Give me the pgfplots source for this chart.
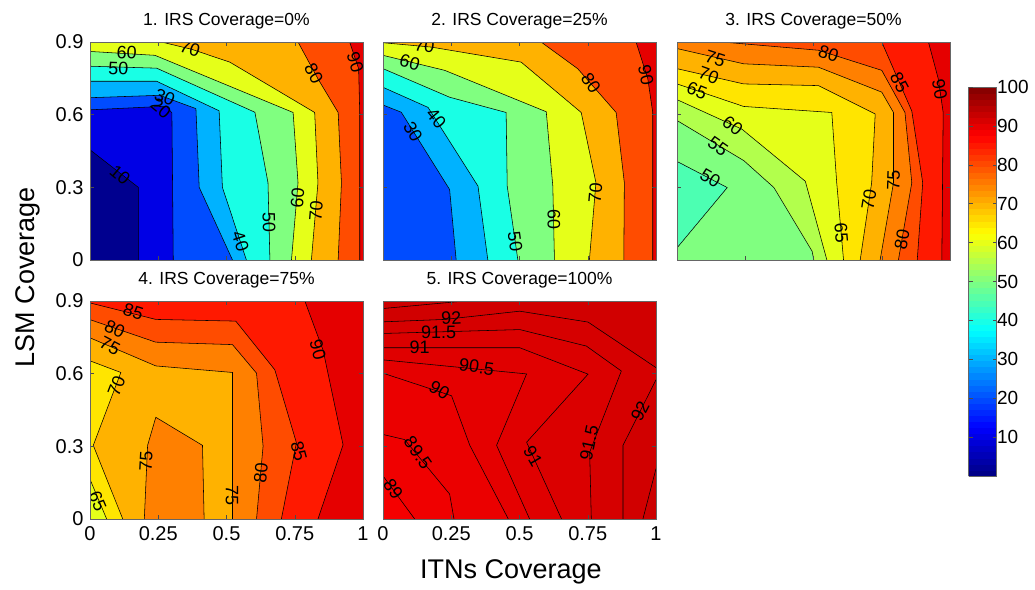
\documentclass[border=0pt]{standalone}
\usepackage{fontspec}
\setmainfont{Liberation Sans}
\usepackage{pgfplots}
\pgfplotsset{compat=1.18}
\pgfplotsset{/pgf/number format/assume math mode=true}
\newcommand\tickfont{\fontsize{20}{23}\selectfont}
\newcommand\cbfont{\fontsize{19}{22}\selectfont}
\newcommand\titlefont{\fontsize{17.5}{20}\selectfont}
\newcommand\labfont{\fontsize{27}{30}\selectfont}
\newcommand\clabfont{\fontsize{18}{20}\selectfont}
\definecolor{j0}{rgb}{0,0,0.56}
\definecolor{j10}{rgb}{0,0,0.9}
\definecolor{j20}{rgb}{0,0.3,1}
\definecolor{j30}{rgb}{0,0.7,1}
\definecolor{j40}{rgb}{0.1,1,0.9}
\definecolor{j45}{rgb}{0.3,1,0.7}
\definecolor{j50}{rgb}{0.5,1,0.5}
\definecolor{j55}{rgb}{0.7,1,0.3}
\definecolor{j60}{rgb}{0.9,1,0.1}
\definecolor{j65}{rgb}{1,0.9,0}
\definecolor{j70}{rgb}{1,0.7,0}
\definecolor{j75}{rgb}{1,0.5,0}
\definecolor{j80}{rgb}{1,0.3,0}
\definecolor{j85}{rgb}{1,0.1,0}
\definecolor{j90}{rgb}{0.9,0,0}
\definecolor{jA}{rgb}{0.96,0,0}
\definecolor{jB}{rgb}{0.94,0,0}
\definecolor{jC}{rgb}{0.92,0,0}
\definecolor{jD}{rgb}{0.90,0,0}
\definecolor{jE}{rgb}{0.88,0,0}
\definecolor{jF}{rgb}{0.86,0,0}
\definecolor{jG}{rgb}{0.84,0,0}
\definecolor{jH}{rgb}{0.82,0,0}
\definecolor{jI}{rgb}{0.80,0,0}
\tikzset{
  cf/.style={draw=none, fill=#1},
  cl/.style={black, line width=0.55pt},
  lab/.style={font=\clabfont, inner sep=0pt},
}
\pgfplotsset{
  panel/.style={anchor=south west, scale only axis, width=273pt, height=218pt,
    xmin=0, xmax=1, ymin=0, ymax=0.9,
    xtick={0,0.25,0.5,0.75,1}, ytick={0,0.3,0.6,0.9},
    tick align=inside, major tick length=4pt,
    tick style={black!70, line width=0.5pt},
    axis line style={black!60, line width=0.6pt},
    ticklabel style={font=\tickfont},
    xticklabel style={yshift=-4pt}, yticklabel style={xshift=-3pt},
    title style={font=\titlefont, yshift=3pt},
    axis on top},
}
\begin{document}
\begin{tikzpicture}
\useasboundingbox (0,0) rectangle (1035pt,-589pt);

% ---------------- Panel 1
\begin{axis}[panel, at={(90pt,-260pt)}, title={1. IRS Coverage=0\%},
  xticklabels={}, yticklabels={0,0.3,0.6,0.9}]
\addplot[cf=j0] coordinates {(0,0) (1,0) (1,0.9) (0,0.9)};
\addplot[cf=j10] coordinates {(0,0.455) (0.177,0.30) (0.177,0) (1,0) (1,0.9) (0,0.9)};
\addplot[cf=j20] coordinates {(0,0.62) (0.28,0.635) (0.30,0.607) (0.305,0) (1,0) (1,0.9) (0,0.9)};
\addplot[cf=j30] coordinates {(0,0.67) (0.255,0.68) (0.388,0.625) (0.40,0.30) (0.522,0) (1,0) (1,0.9) (0,0.9)};
\addplot[cf=j40] coordinates {(0,0.738) (0.244,0.738) (0.473,0.616) (0.485,0.30) (0.573,0) (1,0) (1,0.9) (0,0.9)};
\addplot[cf=j50] coordinates {(0,0.80) (0.244,0.792) (0.604,0.61) (0.652,0.319) (0.659,0) (1,0) (1,0.9) (0,0.9)};
\addplot[cf=j60] coordinates {(0,0.861) (0.238,0.845) (0.744,0.609) (0.762,0.319) (0.738,0) (1,0) (1,0.9) (0,0.9)};
\addplot[cf=j70] coordinates {(0.262,0.9) (0.372,0.870) (0.512,0.817) (0.823,0.609) (0.835,0.319) (0.811,0) (1,0) (1,0.9)};
\addplot[cf=j80] coordinates {(0.762,0.9) (0.835,0.748) (0.909,0.609) (0.921,0.319) (0.909,0) (1,0) (1,0.9)};
\addplot[cf=j90] coordinates {(0.951,0.9) (0.984,0.79) (0.988,0.609) (0.988,0) (1,0) (1,0.9)};
\addplot[cl] coordinates {(0,0.455) (0.177,0.30) (0.177,0)};
\addplot[cl] coordinates {(0,0.62) (0.28,0.635) (0.30,0.607) (0.305,0)};
\addplot[cl] coordinates {(0,0.67) (0.255,0.68) (0.388,0.625) (0.40,0.30) (0.522,0)};
\addplot[cl] coordinates {(0,0.738) (0.244,0.738) (0.473,0.616) (0.485,0.30) (0.573,0)};
\addplot[cl] coordinates {(0,0.80) (0.244,0.792) (0.604,0.61) (0.652,0.319) (0.659,0)};
\addplot[cl] coordinates {(0,0.861) (0.238,0.845) (0.744,0.609) (0.762,0.319) (0.738,0)};
\addplot[cl] coordinates {(0.262,0.9) (0.372,0.870) (0.512,0.817) (0.823,0.609) (0.835,0.319) (0.811,0)};
\addplot[cl] coordinates {(0.762,0.9) (0.835,0.748) (0.909,0.609) (0.921,0.319) (0.909,0)};
\addplot[cl] coordinates {(0.951,0.9) (0.984,0.79) (0.988,0.609) (0.988,0)};
\node[lab, rotate=-3] at (axis cs:0.134,0.856) {60};
\node[lab, rotate=-2] at (axis cs:0.104,0.791) {50};
\node[lab, rotate=-17] at (axis cs:0.366,0.873) {70};
\node[lab, rotate=-23] at (axis cs:0.274,0.672) {30};
\node[lab, rotate=-40] at (axis cs:0.26,0.626) {20};
\node[lab, rotate=-40] at (axis cs:0.11,0.352) {10};
\node[lab, rotate=-62] at (axis cs:0.82,0.77) {80};
\node[lab, rotate=-72] at (axis cs:0.972,0.817) {90};
\node[lab, rotate=85] at (axis cs:0.76,0.256) {60};
\node[lab, rotate=85] at (axis cs:0.828,0.201) {70};
\node[lab, rotate=-89] at (axis cs:0.656,0.155) {50};
\node[lab, rotate=-72] at (axis cs:0.551,0.076) {40};
\end{axis}

% ---------------- Panel 2
\begin{axis}[panel, at={(383pt,-260pt)}, title={2. IRS Coverage=25\%},
  xticklabels={}, yticklabels={}]
\addplot[cf=j20] coordinates {(0,0) (1,0) (1,0.9) (0,0.9)};
\addplot[cf=j30] coordinates {(0,0.64) (0.067,0.61) (0.244,0.291) (0.268,0) (1,0) (1,0.9) (0,0.9)};
\addplot[cf=j40] coordinates {(0,0.713) (0.165,0.63) (0.348,0.305) (0.384,0) (1,0) (1,0.9) (0,0.9)};
\addplot[cf=j50] coordinates {(0,0.79) (0.244,0.672) (0.451,0.609) (0.455,0.305) (0.494,0) (1,0) (1,0.9) (0,0.9)};
\addplot[cf=j60] coordinates {(0,0.845) (0.226,0.783) (0.598,0.612) (0.622,0.305) (0.628,0) (1,0) (1,0.9) (0,0.9)};
\addplot[cf=j70] coordinates {(0,0.897) (0.177,0.879) (0.506,0.817) (0.726,0.609) (0.78,0.319) (0.756,0) (1,0) (1,0.9) (0,0.9)};
\addplot[cf=j80] coordinates {(0.579,0.9) (0.713,0.79) (0.854,0.609) (0.884,0.319) (0.882,0) (1,0) (1,0.9)};
\addplot[cf=j90] coordinates {(0.927,0.9) (0.97,0.748) (0.988,0.609) (0.988,0) (1,0) (1,0.9)};
\addplot[cl] coordinates {(0,0.64) (0.067,0.61) (0.244,0.291) (0.268,0)};
\addplot[cl] coordinates {(0,0.713) (0.165,0.63) (0.348,0.305) (0.384,0)};
\addplot[cl] coordinates {(0,0.79) (0.244,0.672) (0.451,0.609) (0.455,0.305) (0.494,0)};
\addplot[cl] coordinates {(0,0.845) (0.226,0.783) (0.598,0.612) (0.622,0.305) (0.628,0)};
\addplot[cl] coordinates {(0,0.897) (0.177,0.879) (0.506,0.817) (0.726,0.609) (0.78,0.319) (0.756,0)};
\addplot[cl] coordinates {(0.579,0.9) (0.713,0.79) (0.854,0.609) (0.884,0.319) (0.882,0)};
\addplot[cl] coordinates {(0.927,0.9) (0.97,0.748) (0.988,0.609) (0.988,0)};
\node[lab, rotate=-10] at (axis cs:0.152,0.884) {70};
\node[lab, rotate=-16] at (axis cs:0.098,0.817) {60};
\node[lab, rotate=-50] at (axis cs:0.195,0.585) {40};
\node[lab, rotate=-60] at (axis cs:0.11,0.53) {30};
\node[lab, rotate=-55] at (axis cs:0.762,0.73) {80};
\node[lab, rotate=-78] at (axis cs:0.963,0.762) {90};
\node[lab, rotate=85] at (axis cs:0.778,0.277) {70};
\node[lab, rotate=-89] at (axis cs:0.626,0.166) {60};
\node[lab, rotate=-82] at (axis cs:0.484,0.076) {50};
\end{axis}

% ---------------- Panel 3 (with colorbar)
\begin{axis}[panel, at={(677pt,-260pt)}, title={3. IRS Coverage=50\%},
  xticklabels={}, yticklabels={},
  colormap/jet, point meta min=0, point meta max=100,
  colorbar sampled,
  colorbar style={at={(parent axis.north east)},
    anchor=north west, xshift=10pt, yshift=-45pt,
    samples=65,
    scale only axis, width=28pt, height=389pt,
    ytick={10,20,30,40,50,60,70,80,90,100},
    ytick pos=both, yticklabel pos=right,
    tick align=inside, major tick length=4pt,
    tick style={black!70, line width=0.5pt},
    axis line style={black!60, line width=0.6pt},
    axis on top,
    yticklabel style={font=\cbfont, xshift=-3pt}}]
\addplot[cf=j50] coordinates {(0,0) (1,0) (1,0.9) (0,0.9)};
\addplot[cf=j45] coordinates {(0,0.407) (0.184,0.299) (0,0.05)};
\addplot[cf=j55] coordinates {(0,0.576) (0.245,0.41) (0.355,0.299) (0.495,0.036) (0.501,0) (1,0) (1,0.9) (0,0.9)};
\addplot[cf=j60] coordinates {(0,0.662) (0.238,0.54) (0.470,0.325) (0.549,0) (1,0) (1,0.9) (0,0.9)};
\addplot[cf=j65] coordinates {(0,0.727) (0.244,0.634) (0.567,0.609) (0.585,0.319) (0.61,0) (1,0) (1,0.9) (0,0.9)};
\addplot[cf=j70] coordinates {(0,0.79) (0.244,0.727) (0.518,0.72) (0.726,0.603) (0.713,0.319) (0.671,0) (1,0) (1,0.9) (0,0.9)};
\addplot[cf=j75] coordinates {(0,0.873) (0.244,0.81) (0.518,0.796) (0.75,0.693) (0.793,0.609) (0.793,0.319) (0.744,0) (1,0) (1,0.9) (0,0.9)};
\addplot[cf=j80] coordinates {(0.165,0.9) (0.518,0.866) (0.75,0.783) (0.835,0.609) (0.86,0.319) (0.811,0) (1,0) (1,0.9)};
\addplot[cf=j85] coordinates {(0.75,0.9) (0.86,0.615) (0.90,0.319) (0.88,0) (1,0) (1,0.9)};
\addplot[cf=j90] coordinates {(0.921,0.9) (0.957,0.748) (0.975,0.609) (0.97,0) (1,0) (1,0.9)};
\addplot[cl] coordinates {(0,0.407) (0.184,0.299) (0,0.05)};
\addplot[cl] coordinates {(0,0.576) (0.245,0.41) (0.355,0.299) (0.495,0.036) (0.501,0)};
\addplot[cl] coordinates {(0,0.662) (0.238,0.54) (0.470,0.325) (0.549,0)};
\addplot[cl] coordinates {(0,0.727) (0.244,0.634) (0.567,0.609) (0.585,0.319) (0.61,0)};
\addplot[cl] coordinates {(0,0.79) (0.244,0.727) (0.518,0.72) (0.726,0.603) (0.713,0.319) (0.671,0)};
\addplot[cl] coordinates {(0,0.873) (0.244,0.81) (0.518,0.796) (0.75,0.693) (0.793,0.609) (0.793,0.319) (0.744,0)};
\addplot[cl] coordinates {(0.165,0.9) (0.518,0.866) (0.75,0.783) (0.835,0.609) (0.86,0.319) (0.811,0)};
\addplot[cl] coordinates {(0.75,0.9) (0.86,0.615) (0.90,0.319) (0.88,0)};
\addplot[cl] coordinates {(0.921,0.9) (0.957,0.748) (0.975,0.609) (0.97,0)};
\node[lab, rotate=-18] at (axis cs:0.14,0.83) {75};
\node[lab, rotate=-20] at (axis cs:0.116,0.762) {70};
\node[lab, rotate=-22] at (axis cs:0.073,0.70) {65};
\node[lab, rotate=-38] at (axis cs:0.204,0.556) {60};
\node[lab, rotate=-35] at (axis cs:0.15,0.47) {55};
\node[lab, rotate=-30] at (axis cs:0.122,0.34) {50};
\node[lab, rotate=-18] at (axis cs:0.555,0.853) {80};
\node[lab, rotate=-62] at (axis cs:0.815,0.734) {85};
\node[lab, rotate=-80] at (axis cs:0.962,0.706) {90};
\node[lab, rotate=-85] at (axis cs:0.602,0.111) {65};
\node[lab, rotate=81] at (axis cs:0.703,0.249) {70};
\node[lab, rotate=88] at (axis cs:0.793,0.33) {75};
\node[lab, rotate=80] at (axis cs:0.824,0.083) {80};
\end{axis}

% ---------------- Panel 4
\begin{axis}[panel, at={(90pt,-519pt)}, title={4. IRS Coverage=75\%},
  xticklabels={0,0.25,0.5,0.75,1}, yticklabels={0,0.3,0.6,0.9}]
\addplot[cf=j60] coordinates {(0,0) (1,0) (1,0.9) (0,0.9)};
\addplot[cf=j65] coordinates {(0,0.164) (0.061,0) (1,0) (1,0.9) (0,0.9)};
\addplot[cf=j70] coordinates {(0,0.653) (0.113,0.605) (0.012,0.304) (0.12,0) (1,0) (1,0.9) (0,0.9)};
\addplot[cf=j75] coordinates {(0,0.748) (0.241,0.632) (0.522,0.605) (0.522,0) (1,0) (1,0.9) (0,0.9)};
\addplot[cf=j75] coordinates {(0.199,0) (0.211,0.304) (0.241,0.42) (0.412,0.304) (0.418,0)};
\addplot[cf=j80] coordinates {(0,0.823) (0.241,0.73) (0.522,0.72) (0.61,0.602) (0.634,0.301) (0.61,0) (1,0) (1,0.9) (0,0.9)};
\addplot[cf=j85] coordinates {(0,0.892) (0.241,0.824) (0.534,0.817) (0.677,0.616) (0.756,0.315) (0.701,0) (1,0) (1,0.9) (0,0.9)};
\addplot[cf=j90] coordinates {(0.787,0.9) (0.854,0.696) (0.927,0.306) (0.835,0) (1,0) (1,0.9)};
\addplot[cl] coordinates {(0,0.164) (0.061,0)};
\addplot[cl] coordinates {(0,0.653) (0.113,0.605) (0.012,0.304) (0.12,0)};
\addplot[cl] coordinates {(0,0.748) (0.241,0.632) (0.522,0.605) (0.522,0)};
\addplot[cl] coordinates {(0.199,0) (0.211,0.304) (0.241,0.42) (0.412,0.304) (0.418,0)};
\addplot[cl] coordinates {(0,0.823) (0.241,0.73) (0.522,0.72) (0.61,0.602) (0.634,0.301) (0.61,0)};
\addplot[cl] coordinates {(0,0.892) (0.241,0.824) (0.534,0.817) (0.677,0.616) (0.756,0.315) (0.701,0)};
\addplot[cl] coordinates {(0.787,0.9) (0.854,0.696) (0.927,0.306) (0.835,0)};
\node[lab, rotate=-18] at (axis cs:0.159,0.855) {85};
\node[lab, rotate=-25] at (axis cs:0.091,0.785) {80};
\node[lab, rotate=-28] at (axis cs:0.073,0.715) {75};
\node[lab, rotate=69] at (axis cs:0.097,0.55) {70};
\node[lab, rotate=-67] at (axis cs:0.028,0.075) {65};
\node[lab, rotate=87] at (axis cs:0.205,0.239) {75};
\node[lab, rotate=-90] at (axis cs:0.52,0.096) {75};
\node[lab, rotate=85] at (axis cs:0.626,0.192) {80};
\node[lab, rotate=-75] at (axis cs:0.765,0.28) {85};
\node[lab, rotate=-75] at (axis cs:0.835,0.698) {90};
\end{axis}

% ---------------- Panel 5
\begin{axis}[panel, at={(383pt,-519pt)}, title={5. IRS Coverage=100\%},
  xticklabels={0,0.25,0.5,0.75,1}, yticklabels={}]
\addplot[cf=jA] coordinates {(0,0) (1,0) (1,0.9) (0,0.9)};
\addplot[cf=jB] coordinates {(0,0.178) (0.116,0) (1,0) (1,0.9) (0,0.9)};
\addplot[cf=jC] coordinates {(0,0.349) (0.079,0.328) (0.244,0.103) (0.26,0) (1,0) (1,0.9) (0,0.9)};
\addplot[cf=jD] coordinates {(0,0.602) (0.251,0.509) (0.318,0.304) (0.459,0) (1,0) (1,0.9) (0,0.9)};
\addplot[cf=jE] coordinates {(0,0.657) (0.526,0.599) (0.416,0.304) (0.537,0) (1,0) (1,0.9) (0,0.9)};
\addplot[cf=jF] coordinates {(0,0.707) (0.501,0.707) (0.751,0.598) (0.526,0.317) (0.654,0) (1,0) (1,0.9) (0,0.9)};
\addplot[cf=jG] coordinates {(0,0.766) (0.501,0.782) (0.745,0.714) (0.873,0.611) (0.757,0.276) (0.763,0) (1,0) (1,0.9) (0,0.9)};
\addplot[cf=jH] coordinates {(0,0.814) (0.226,0.824) (0.501,0.858) (0.751,0.813) (1,0.625) (1,0.9) (0,0.9)};
\addplot[cf=jH] coordinates {(1,0.575) (0.879,0.304) (0.879,0) (1,0)};
\addplot[cf=jI] coordinates {(0,0.869) (0.299,0.9) (0,0.9)};
\addplot[cf=jI] coordinates {(1,0.208) (0.952,0) (1,0)};
\addplot[cl] coordinates {(0,0.178) (0.116,0)};
\addplot[cl] coordinates {(0,0.349) (0.079,0.328) (0.244,0.103) (0.26,0)};
\addplot[cl] coordinates {(0,0.602) (0.251,0.509) (0.318,0.304) (0.459,0)};
\addplot[cl] coordinates {(0,0.657) (0.526,0.599) (0.416,0.304) (0.537,0)};
\addplot[cl] coordinates {(0,0.707) (0.501,0.707) (0.751,0.598) (0.526,0.317) (0.654,0)};
\addplot[cl] coordinates {(0,0.766) (0.501,0.782) (0.745,0.714) (0.873,0.611) (0.757,0.276) (0.763,0)};
\addplot[cl] coordinates {(0,0.814) (0.226,0.824) (0.501,0.858) (0.751,0.813) (1,0.625)};
\addplot[cl] coordinates {(1,0.575) (0.879,0.304) (0.879,0)};
\addplot[cl] coordinates {(0,0.869) (0.299,0.9)};
\addplot[cl] coordinates {(1,0.208) (0.952,0)};
\node[lab, rotate=3] at (axis cs:0.25,0.83) {92};
\node[lab, rotate=0] at (axis cs:0.204,0.77) {91.5};
\node[lab, rotate=0] at (axis cs:0.134,0.707) {91};
\node[lab, rotate=-8] at (axis cs:0.343,0.628) {90.5};
\node[lab, rotate=-30] at (axis cs:0.207,0.534) {90};
\node[lab, rotate=-55] at (axis cs:0.128,0.274) {89.5};
\node[lab, rotate=-55] at (axis cs:0.037,0.123) {89};
\node[lab, rotate=-60] at (axis cs:0.549,0.26) {91};
\node[lab, rotate=78] at (axis cs:0.755,0.315) {91.5};
\node[lab, rotate=63] at (axis cs:0.942,0.445) {92};
\end{axis}

\node[font=\labfont, rotate=90] at (28pt,-277pt) {LSM Coverage};
\node[font=\labfont] at (511pt,-572pt) {ITNs Coverage};
\end{tikzpicture}
\end{document}
